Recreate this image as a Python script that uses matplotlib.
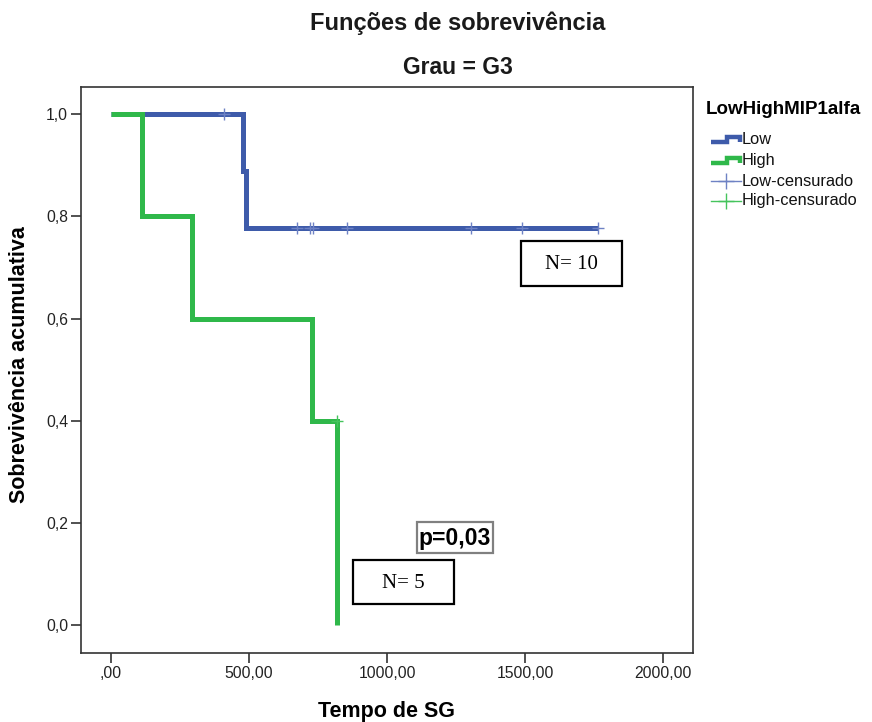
import matplotlib
matplotlib.use("Agg")
import matplotlib.pyplot as plt
from matplotlib.patches import Rectangle
from matplotlib.lines import Line2D

# ---- data ----
low_step_t = [0, 478, 489, 1763]
low_step_s = [1.0, 0.889, 0.778, 0.778]
low_cens_t = [409, 673, 721, 733, 856, 1303, 1488, 1763]
low_cens_s = [1.0, 0.778, 0.778, 0.778, 0.778, 0.778, 0.778, 0.778]
high_step_t = [0, 111, 292, 727, 820]
high_step_s = [1.0, 0.8, 0.6, 0.4, 0.0]
high_cens_t = [820]
high_cens_s = [0.4]

x_ticks = [0, 500, 1000, 1500, 2000]
x_tick_labels = [",00", "500,00", "1000,00", "1500,00", "2000,00"]
y_ticks = [0.0, 0.2, 0.4, 0.6, 0.8, 1.0]
y_tick_labels = ["0,0", "0,2", "0,4", "0,6", "0,8", "1,0"]

legend_title = "LowHighMIP1alfa"
legend_labels = ["Low", "High", "Low-censurado", "High-censurado"]
title1 = "Funções de sobrevivência"
title2 = "Grau = G3"
xlabel = "Tempo de SG"
ylabel = "Sobrevivência acumulativa"
n_low_text = "N= 10"
n_high_text = "N= 5"
p_text = "p=0,03"

BLUE = "#3E5BAA"
GREEN = "#2FB84A"
BLUE_L = "#6E82C4"
GREEN_L = "#45C45C"

plt.rcParams['font.family'] = ['Liberation Sans', 'DejaVu Sans']

W, H = 872, 722
fig = plt.figure(figsize=(W / 100, H / 100), dpi=100)

def fx(x):
    return x / W

def fy(y):
    return 1 - y / H

L, R, T, B = 80.7, 693.3, 87.3, 653
ax = fig.add_axes([fx(L), fy(B), fx(R) - fx(L), fy(T) - fy(B)])
ax.set_xlim(-110, 2110)
ax.set_ylim(-0.055, 1.053)

ax.plot(low_step_t, low_step_s, drawstyle='steps-post', color=BLUE, lw=3.6,
        solid_capstyle='butt', solid_joinstyle='miter', zorder=3)
ax.plot(high_step_t, high_step_s, drawstyle='steps-post', color=GREEN, lw=3.6,
        solid_capstyle='butt', solid_joinstyle='miter', zorder=4)
ax.plot(low_cens_t, low_cens_s, ls='none', marker='+', ms=8, mew=1.0, color=BLUE_L, zorder=5)
ax.plot(high_cens_t, high_cens_s, ls='none', marker='+', ms=8, mew=1.0, color=GREEN_L, zorder=5)

ax.set_xticks(x_ticks)
ax.set_xticklabels(x_tick_labels)
ax.set_yticks(y_ticks)
ax.set_yticklabels(y_tick_labels)
ax.tick_params(axis='both', direction='out', length=7, width=1.2, labelsize=11.3, color='#333333',
               labelcolor='#222222', pad=2)
for sp in ax.spines.values():
    sp.set_linewidth(1.2)
    sp.set_color('#333333')

# titles and labels
fig.text(fx(458), fy(23), title1, ha='center', va='center', fontsize=17, fontweight='bold',
         color='#1a1a1a')
fig.text(fx(458), fy(67), title2, ha='center', va='center', fontsize=16.5, fontweight='bold',
         color='#1a1a1a')
fig.text(fx(386), fy(711), xlabel, ha='center', va='center', fontsize=15.5, fontweight='bold')
fig.text(fx(20), fy(365), ylabel, ha='center', va='center', rotation=90, fontsize=15.5,
         fontweight='bold')

# annotation boxes
def box(x0, y0, x1, y1, ec, lw):
    r = Rectangle((fx(x0), fy(y1)), fx(x1) - fx(x0), fy(y0) - fy(y1), transform=fig.transFigure,
                  fill=True, facecolor='white', edgecolor=ec, lw=lw, zorder=10)
    fig.add_artist(r)

box(521, 241, 622, 286, 'black', 1.6)
fig.text(fx(571.5), fy(265), n_low_text, ha='center', va='center', fontsize=15,
         family='Liberation Serif', zorder=11)
box(353, 560, 454, 604, 'black', 1.6)
fig.text(fx(403.5), fy(583), n_high_text, ha='center', va='center', fontsize=15,
         family='Liberation Serif', zorder=11)
box(417, 522, 493, 553, '#808080', 1.6)
fig.text(fx(455), fy(538), p_text, ha='center', va='center', fontsize=16.5, fontweight='bold',
         zorder=11)

# legend (manual)
fig.text(fx(706), fy(110), legend_title, ha='left', va='center', fontsize=13.5, fontweight='bold')
def step_handle(yc, color):
    xs = [fx(711), fx(727), fx(727), fx(740), fx(740)]
    ys = [fy(yc + 2), fy(yc + 2), fy(yc - 3), fy(yc - 3), fy(yc + 2)]
    fig.add_artist(Line2D(xs, ys, transform=fig.transFigure, color=color, lw=3.2,
                          solid_joinstyle='miter', solid_capstyle='butt'))

def cens_handle(yc, color):
    fig.add_artist(Line2D([fx(711), fx(741)], [fy(yc), fy(yc)], transform=fig.transFigure,
                          color=color, lw=1.0))
    fig.add_artist(Line2D([fx(726)], [fy(yc)], transform=fig.transFigure, color=color,
                          marker='+', ms=11, mew=1.0, ls='none'))

ys_leg = [140, 161, 181, 201]
step_handle(ys_leg[0], BLUE)
step_handle(ys_leg[1], GREEN)
cens_handle(ys_leg[2], BLUE_L)
cens_handle(ys_leg[3], GREEN_L)
for yv, lab in zip(ys_leg, legend_labels):
    fig.text(fx(742), fy(yv), lab, ha='left', va='center', fontsize=11.8, color='#111111')

fig.savefig("out.png", dpi=100)
